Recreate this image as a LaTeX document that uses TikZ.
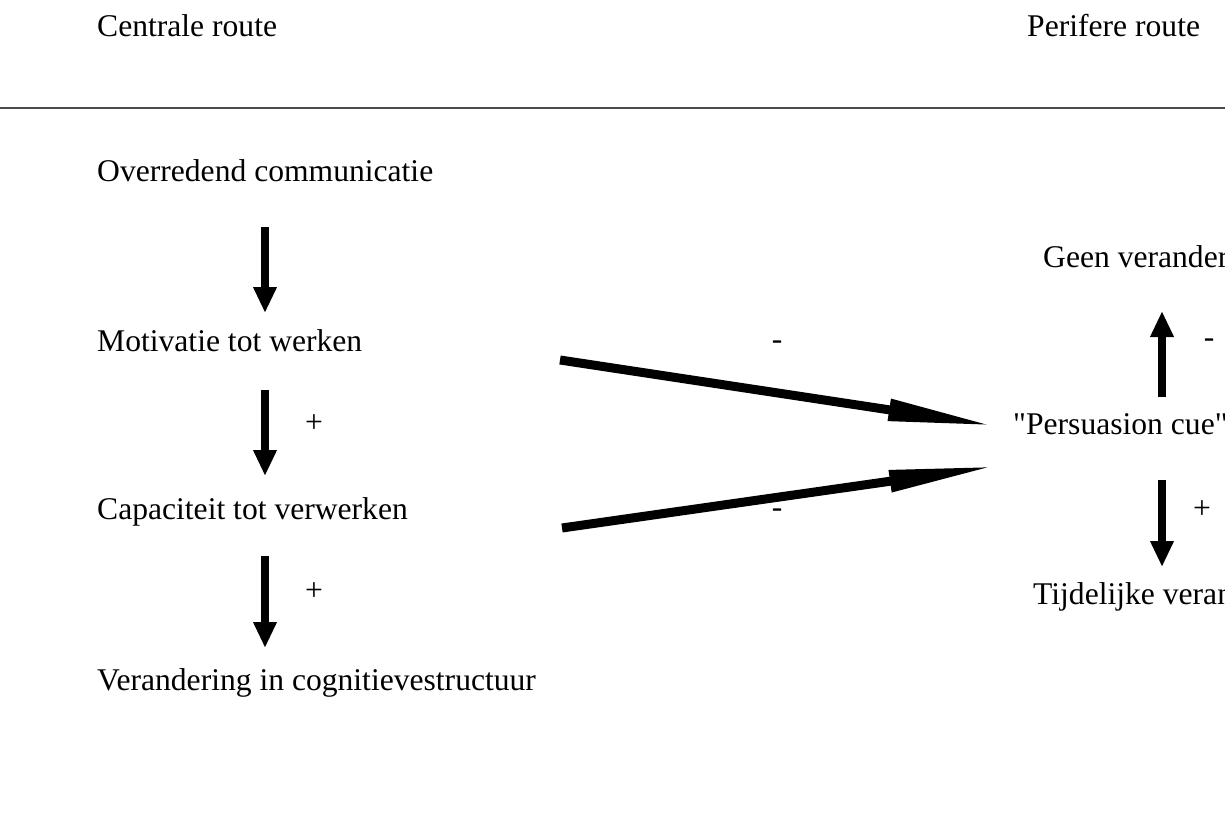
\documentclass[tikz,border=0pt]{standalone}
\usepackage{fontspec}
\setmainfont{Liberation Serif}[Ligatures=TeXOff]
\usetikzlibrary{arrows.meta}
\begin{document}
\begin{tikzpicture}[x=1pt,y=-1pt,
  lbl/.style={anchor=base west,inner sep=0pt,font=\fontsize{31.6}{36}\selectfont},
  sgn/.style={inner sep=0pt,font=\fontsize{31.6}{36}\selectfont},
  vflow/.style={line width=8pt,-{Triangle[length=26pt,width=22pt]}},
  bigflow/.style={line width=9pt,-{Triangle[length=108pt,width=20pt]}}]
\useasboundingbox (0,0) rectangle (1225,821);
\clip (0,0) rectangle (1225,821);
\node[lbl] (cr) at (97,37) {Centrale route};
\node[lbl] (pr) at (1027,37) {Perifere route};
\coordinate (l0) at (0,108);
\coordinate (l1) at (1225,108);
\draw[line width=1.5pt,color=black!70] (l0) -- (l1);
\node[lbl] (oc) at (97,182) {Overredend communicatie};
\node[lbl] (mw) at (97,351) {Motivatie tot werken};
\node[lbl] (cv) at (97,519) {Capaciteit tot verwerken};
\node[lbl] (vc) at (97,690) {Verandering in cognitievestructuur};
\node[lbl] (gv) at (1043,267) {Geen verandering};
\node[lbl] (pc) at (1013,434) {"Persuasion cue"};
\node[lbl] (tv) at (1033,604) {Tijdelijke verandering};
% left vertical arrows
\coordinate (a1s) at (265,227); \coordinate (a1e) at (265,313);
\coordinate (a2s) at (265,390); \coordinate (a2e) at (265,476);
\coordinate (a3s) at (265,556); \coordinate (a3e) at (265,648);
\draw[vflow] (a1s) -- (a1e);
\draw[vflow] (a2s) -- (a2e);
\draw[vflow] (a3s) -- (a3e);
\node[sgn] (p1) at (314,424) {+};
\node[sgn] (p2) at (314,592) {+};
% right vertical arrows
\coordinate (r1s) at (1162,397); \coordinate (r1e) at (1162,311);
\coordinate (r2s) at (1162,480); \coordinate (r2e) at (1162,567);
\draw[vflow] (r1s) -- (r1e);
\draw[vflow] (r2s) -- (r2e);
\node[sgn] (m3) at (1209,343) {-};
\node[sgn] (p3) at (1202,510) {+};
% big diagonal arrows
\coordinate (b1s) at (560,360); \coordinate (b1e) at (996,426);
\coordinate (b2s) at (562,528); \coordinate (b2e) at (997,466);
\draw[bigflow] (b1s) -- (b1e);
\draw[bigflow] (b2s) -- (b2e);
\node[sgn] (m1) at (777,345) {-};
\node[sgn] (m2) at (777,513) {-};
\end{tikzpicture}
\end{document}
